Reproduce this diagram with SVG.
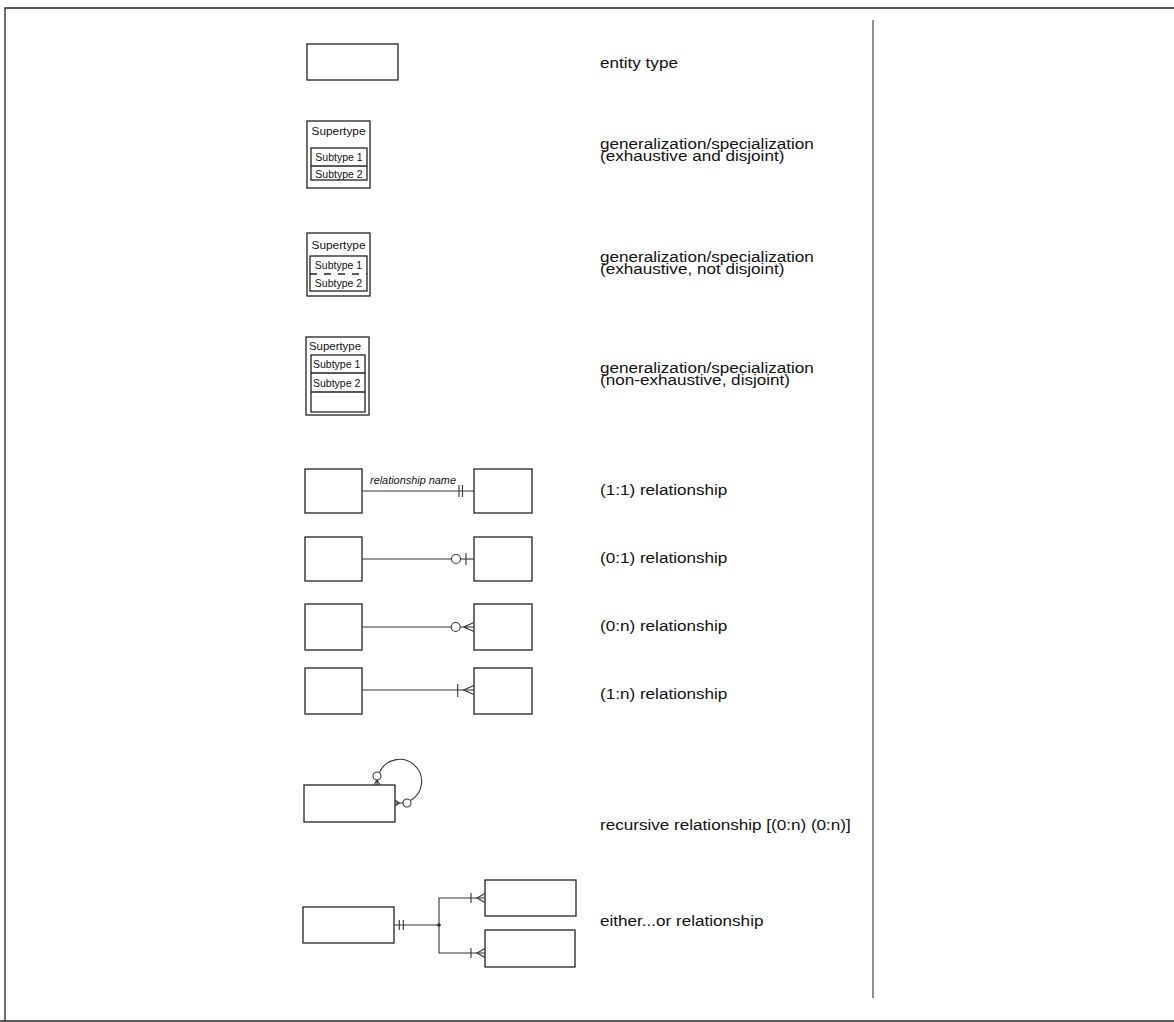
<svg xmlns="http://www.w3.org/2000/svg" width="1174" height="1022" viewBox="0 0 1174 1022">
<style>
.b{fill:none;stroke:#222;stroke-width:1.3}
.l{fill:none;stroke:#333;stroke-width:1.1}
.t{font-family:"Liberation Sans",Arial,sans-serif;font-size:14.5px;fill:#111}
.s{font-family:"Liberation Sans",Arial,sans-serif;font-size:10.5px;fill:#111}
</style>
<rect width="1174" height="1022" fill="#fff"/>
<g id="frame">
<path class="b" d="M5 1021 V8 H1174"/>
<line class="b" x1="0" y1="1021" x2="1174" y2="1021"/>
<line class="l" x1="873" y1="20" x2="873" y2="998" stroke="#777"/>
</g>
<g id="entity"><rect class="b" x="307" y="44" width="91" height="36"/></g>
<g id="gen1">
<rect class="b" x="307" y="121" width="63" height="67"/>
<text class="s" x="338.5" y="135" text-anchor="middle" textLength="54" lengthAdjust="spacingAndGlyphs">Supertype</text>
<rect class="b" x="311" y="148" width="56" height="32"/>
<line class="b" x1="311" y1="166" x2="367" y2="166"/>
<text class="s" x="339" y="161" text-anchor="middle">Subtype 1</text>
<text class="s" x="339" y="178" text-anchor="middle">Subtype 2</text>
</g>
<g id="gen2">
<rect class="b" x="307" y="233" width="63" height="63"/>
<text class="s" x="338.5" y="249" text-anchor="middle" textLength="54" lengthAdjust="spacingAndGlyphs">Supertype</text>
<rect class="b" x="310" y="256" width="57" height="35"/>
<line class="b" x1="310" y1="274" x2="367" y2="274" stroke-dasharray="7 7"/>
<text class="s" x="338.5" y="269" text-anchor="middle">Subtype 1</text>
<text class="s" x="338.5" y="287" text-anchor="middle">Subtype 2</text>
</g>
<g id="gen3">
<rect class="b" x="306" y="337" width="63" height="78"/>
<text class="s" x="309" y="350" textLength="52" lengthAdjust="spacingAndGlyphs">Supertype</text>
<rect class="b" x="311" y="355" width="54" height="57"/>
<line class="b" x1="311" y1="373" x2="365" y2="373"/>
<line class="b" x1="311" y1="392" x2="365" y2="392"/>
<text class="s" x="313" y="368">Subtype 1</text>
<text class="s" x="313" y="387">Subtype 2</text>
</g>
<g id="r11">
<rect class="b" x="305" y="469" width="57" height="44"/>
<rect class="b" x="474" y="469" width="58" height="44"/>
</g>
<g id="r01">
<rect class="b" x="305" y="537" width="57" height="44"/>
<rect class="b" x="474" y="537" width="58" height="44"/>
</g>
<g id="r0n">
<rect class="b" x="305" y="604" width="57" height="46"/>
<rect class="b" x="474" y="604" width="58" height="46"/>
</g>
<g id="r1n">
<rect class="b" x="305" y="668" width="57" height="46"/>
<rect class="b" x="474" y="668" width="58" height="46"/>
</g>
<g id="rec"><rect class="b" x="304" y="785" width="91" height="37"/></g>
<g id="eo1"><rect class="b" x="303" y="907" width="91" height="36"/></g>
<g id="eo2"><rect class="b" x="485" y="880" width="91" height="36"/></g>
<g id="eo3"><rect class="b" x="485" y="930" width="90" height="37"/></g>
<g id="connectors">
<line class="l" x1="362" y1="491" x2="474" y2="491"/>
<path class="l" d="M459 485 V497 M462.5 485 V497"/>
<text class="s" x="413" y="484" text-anchor="middle" font-style="italic" textLength="86" lengthAdjust="spacingAndGlyphs">relationship name</text>
<line class="l" x1="362" y1="559" x2="451.5" y2="559"/>
<circle class="l" cx="456" cy="559" r="4.5"/>
<line class="l" x1="460.5" y1="559" x2="474" y2="559"/>
<path class="l" d="M466 553 V565"/>
<line class="l" x1="362" y1="627" x2="451" y2="627"/>
<circle class="l" cx="455.7" cy="627" r="4.5"/>
<path class="l" d="M460 627 H474 M474 622.5 L463.5 627 L474 631.5"/>
<line class="l" x1="362" y1="690" x2="474" y2="690"/>
<path class="l" d="M457.7 684 V697 M474 685.5 L463.5 690 L474 694.5"/>
<path class="l" d="M379.5 772.5 A22 22 0 1 1 410.5 800.5"/>
<circle class="l" cx="377" cy="776" r="4"/>
<circle class="l" cx="407" cy="803" r="4"/>
<path class="l" d="M374 785 L377 780 L380 785 M377 780 V785"/>
<path class="l" d="M395 800 L399.5 803 L395 806 M399.5 803 H395 M399.5 803 H403"/>
<line class="l" x1="394" y1="925" x2="439" y2="925"/>
<path class="l" d="M399.3 920 V930 M403.3 920 V930"/>
<circle cx="439" cy="925" r="1.8" fill="#222"/>
<path class="l" d="M485 898 H439 V953 H485"/>
<path class="l" d="M471 893 V903 M485 893.5 L477 898 L485 902.5"/>
<path class="l" d="M471 948 V958 M485 948.5 L477 953 L485 957.5"/>
</g>
<g id="labels" transform="translate(600 0) scale(1.18 1)">
<text class="t" x="0" y="68">entity type</text>
<text class="t" x="0" y="149">generalization/specialization</text>
<text class="t" x="0" y="161">(exhaustive and disjoint)</text>
<text class="t" x="0" y="262">generalization/specialization</text>
<text class="t" x="0" y="274">(exhaustive, not disjoint)</text>
<text class="t" x="0" y="373">generalization/specialization</text>
<text class="t" x="0" y="385">(non-exhaustive, disjoint)</text>
<text class="t" x="0" y="495">(1:1) relationship</text>
<text class="t" x="0" y="563">(0:1) relationship</text>
<text class="t" x="0" y="631">(0:n) relationship</text>
<text class="t" x="0" y="699">(1:n) relationship</text>
<text class="t" x="0" y="830">recursive relationship [(0:n) (0:n)]</text>
<text class="t" x="0" y="926">either...or relationship</text>
</g>
</svg>
